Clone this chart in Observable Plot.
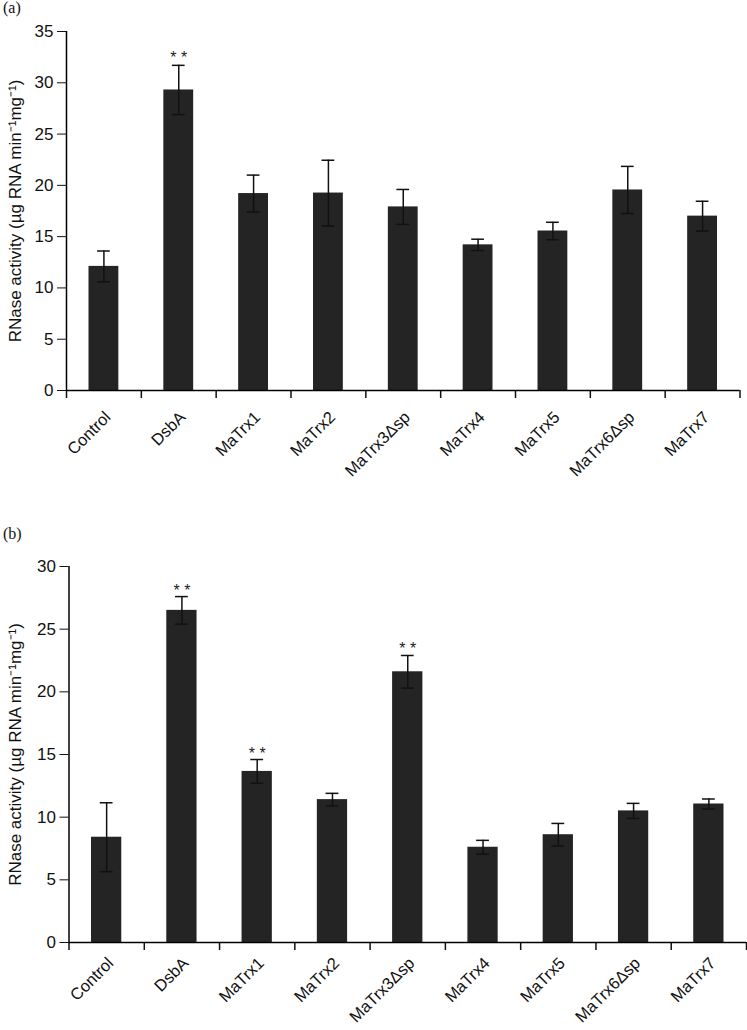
<!DOCTYPE html>
<html><head><meta charset="utf-8">
<script src="https://cdn.jsdelivr.net/npm/d3@7"></script>
<script src="https://cdn.jsdelivr.net/npm/@observablehq/plot@0.6"></script>
<style>
body{margin:0;background:#fff;}
#wrap{position:relative;width:747px;height:1030px;overflow:hidden;}
.panel{position:absolute;left:0;}
.plabel{position:absolute;left:3px;font:16px "Liberation Serif","Times New Roman",serif;color:#111;}
svg{display:block}
</style></head><body>
<div id="wrap">
<div id="pa" class="panel" style="top:0"></div>
<div id="pb" class="panel" style="top:520px"></div>
<div class="plabel" style="top:-1px">(a)</div>
<div class="plabel" style="top:525px">(b)</div>
</div>
<script>
const categories = ["Control","DsbA","MaTrx1","MaTrx2","MaTrx3\u0394sp","MaTrx4","MaTrx5","MaTrx6\u0394sp","MaTrx7"];
const meanA = [12.1, 29.3, 19.2, 19.25, 17.9, 14.2, 15.55, 19.55, 17.0];
const errA  = [1.5, 2.4, 1.8, 3.2, 1.7, 0.55, 0.85, 2.3, 1.45];
const starsA = ["", "* *", "", "", "", "", "", "", ""];
const meanB = [8.4, 26.5, 13.65, 11.4, 21.6, 7.6, 8.6, 10.5, 11.05];
const errB  = [2.75, 1.1, 0.95, 0.5, 1.3, 0.55, 0.9, 0.6, 0.4];
const starsB = ["", "* *", "* *", "", "* *", "", "", "", ""];
const yTicksA = [0, 5, 10, 15, 20, 25, 30, 35];
const yTicksB = [0, 5, 10, 15, 20, 25, 30];
const yLabel = "RNase activity (\u00b5g RNA min\u207b\u00b9mg\u207b\u00b9)";

function panel(means, errs, stars, yTicks, o) {
  const data = categories.map((c, i) => ({c, i, v: means[i], e: errs[i], s: stars[i]}));
  const cap = 0.085;
  return Plot.plot({
    width: 747, height: o.height,
    marginTop: o.mt, marginBottom: o.mb, marginLeft: o.ml, marginRight: o.mr,
    style: {fontFamily: "'Liberation Sans', Arial, Helvetica, sans-serif", fontSize: "16px", color: "#111", background: "#fff", overflow: "visible"},
    x: {domain: [0, categories.length], axis: null},
    y: {domain: [0, yTicks[yTicks.length - 1]], axis: null},
    marks: [
      Plot.rectY(data, {x1: "i", x2: d => d.i + 1, y1: 0, y2: "v", insetLeft: o.inset, insetRight: o.inset, fill: "#242424"}),
      Plot.ruleX(data, {x: d => d.i + 0.5, y1: d => d.v - d.e, y2: d => d.v + d.e, stroke: "#111", strokeWidth: 1.5}),
      Plot.ruleY(data, {x1: d => d.i + 0.5 - cap, x2: d => d.i + 0.5 + cap, y: d => d.v + d.e, stroke: "#111", strokeWidth: 1.5}),
      Plot.ruleY(data, {x1: d => d.i + 0.5 - cap, x2: d => d.i + 0.5 + cap, y: d => d.v - d.e, stroke: "#111", strokeWidth: 1.5}),
      Plot.text(data.filter(d => d.s), {x: d => d.i + 0.5, y: d => d.v + d.e, text: "s", lineAnchor: "bottom", dy: o.sdy, fontSize: 16, fill: "#222"}),
      Plot.axisY({ticks: yTicks, tickSize: 9, tickPadding: 4, fontSize: 17, label: yLabel, labelAnchor: "center", labelArrow: "none", labelOffset: o.lo}),
      Plot.axisX({ticks: d3.range(0, categories.length + 1), tickFormat: () => "", tickSize: 8, strokeWidth: 1.5, label: null}),
      Plot.ruleX([0], {stroke: "#000", strokeWidth: 1.5}),
      Plot.ruleY([0], {stroke: "#000", strokeWidth: 1.5}),
      Plot.text(data, {x: d => d.i + 0.5, y: 0, text: "c", rotate: -45, textAnchor: "end", lineAnchor: "middle", dx: o.ldx, dy: o.ldy, fontSize: 16.5, fill: "#111"})
    ]
  });
}

document.getElementById("pa").append(panel(meanA, errA, starsA, yTicksA,
  {height: 520, mt: 31, mb: 130, ml: 66, mr: 7.5, inset: 22.5, lo: 58, ldx: 4, ldy: 24, sdy: -2}));
document.getElementById("pb").append(panel(meanB, errB, starsB, yTicksB,
  {height: 510, mt: 46, mb: 88, ml: 68.5, mr: 1, inset: 22.5, lo: 60, ldx: 4, ldy: 18, sdy: -1}));
</script>
</body></html>
